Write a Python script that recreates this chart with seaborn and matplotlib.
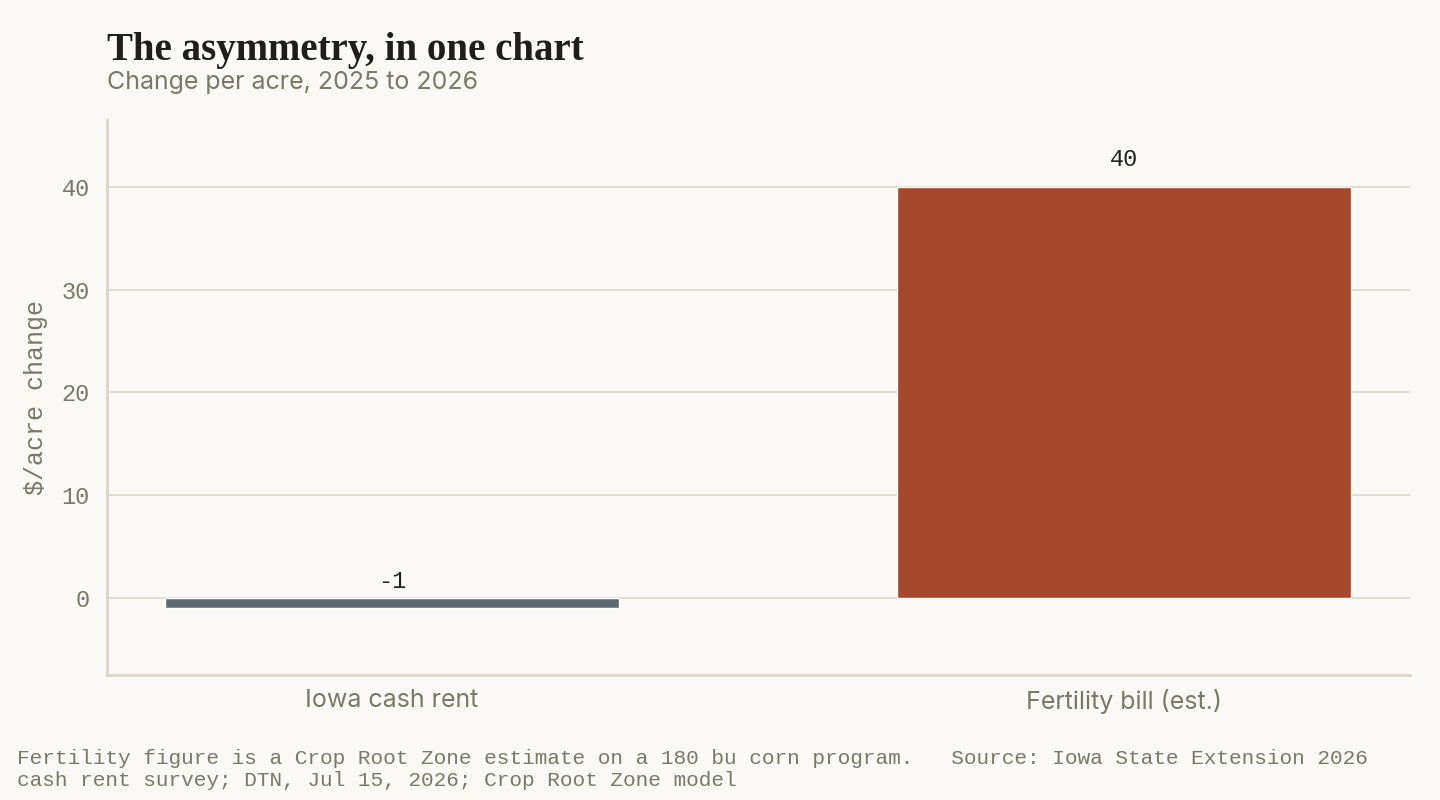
import matplotlib
matplotlib.use('Agg')
import matplotlib.pyplot as plt
import seaborn as sns
import pandas as pd

# ── Data ──────────────────────────────────────
categories = ['Iowa cash rent', 'Fertility bill (est.)']
changes = [-1, 40]
bar_colors = ['#5E6A70', '#A6482B']
y_ticks = [0, 10, 20, 30, 40]

df = pd.DataFrame({'cat': categories, 'val': changes})

bg = '#FAF9F5'
grey = '#7A7868'

sns.set_theme(style='white')
plt.rcParams['font.family'] = ['Liberation Mono', 'DejaVu Sans Mono']

fig = plt.figure(figsize=(14.4, 8), dpi=100, facecolor=bg)
ax = fig.add_axes([0.074, 0.156, 0.905, 0.694], facecolor=bg)

sns.barplot(data=df, x='cat', y='val', hue='cat', palette=bar_colors,
            width=0.62, legend=False, ax=ax, saturation=1)

ax.set_ylim(-7.5, 46.5)
ax.set_xlim(-0.39, 1.39)
ax.set_yticks(y_ticks)
ax.grid(axis='y', color='#DDD9CF', linewidth=1.3)
ax.set_axisbelow(True)
for s in ['top', 'right']:
    ax.spines[s].set_visible(False)
for s in ['left', 'bottom']:
    ax.spines[s].set_color('#DDD5C8')
    ax.spines[s].set_linewidth(2)

ax.tick_params(axis='y', labelsize=17, labelcolor=grey, length=0, pad=12)
ax.tick_params(axis='x', length=0, pad=10)
for lab in ax.get_xticklabels():
    lab.set_fontfamily('Inter')
    lab.set_fontsize(18)
    lab.set_color(grey)
ax.set_xlabel('')
ax.set_ylabel('$/acre change', fontsize=18, color=grey, labelpad=10)

# labels sit a fixed step above each bar's value
for i, v in enumerate(changes):
    ax.text(i, v + 1.5, str(v), ha='center', va='bottom',
            fontsize=17, color='#222222')

fig.text(0.074, 0.925, 'The asymmetry, in one chart', fontsize=28,
         fontweight='bold', family='Liberation Serif', color='#1E1E1A')
fig.text(0.074, 0.889, 'Change per acre, 2025 to 2026', fontsize=18,
         family='Inter', color=grey)
fig.text(0.012, 0.018,
         'Fertility figure is a Crop Root Zone estimate on a 180 bu corn program.   '
         'Source: Iowa State Extension 2026\ncash rent survey; DTN, Jul 15, 2026; Crop Root Zone model',
         fontsize=15.2, color=grey, linespacing=1.2)

plt.savefig('out.png', dpi=100, facecolor=bg)
